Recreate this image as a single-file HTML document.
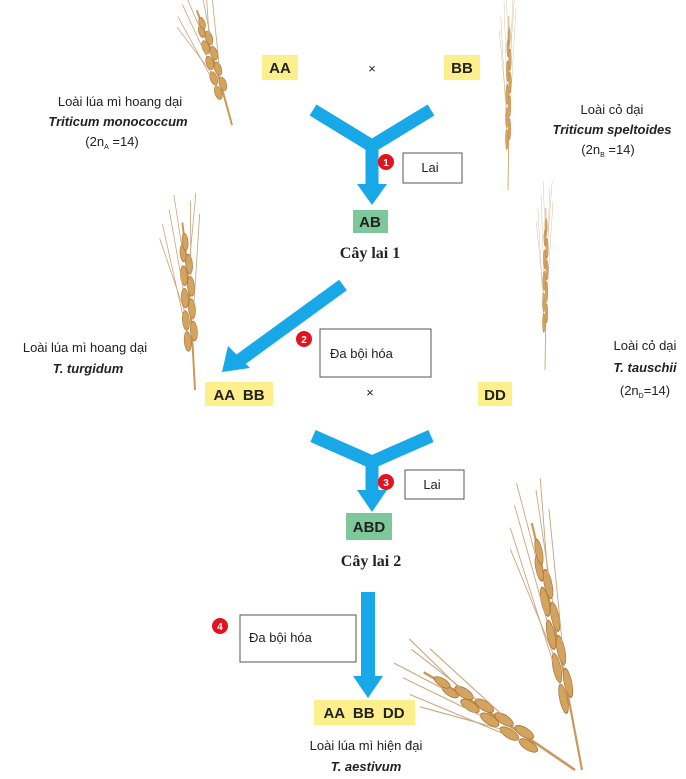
<!DOCTYPE html>
<html><head><meta charset="utf-8"><style>
body{margin:0;background:#fff}
svg{display:block}
text{font-family:"Liberation Sans",sans-serif;fill:#222;white-space:pre}
.g{font-size:15px;font-weight:bold}
.t{font-size:13px}
.i{font-size:13px;font-style:italic;font-weight:bold}
.s{font-family:"Liberation Serif",serif;font-size:16px;font-weight:bold}
</style></head><body>
<svg width="686" height="779" viewBox="0 0 686 779" xmlns="http://www.w3.org/2000/svg">
<defs>
<g id="ear"><path d="M0 0 C2 -40 4 -80 2 -120" stroke="#c89a5a" stroke-width="2" fill="none"/>
<g fill="#d4a35c" stroke="#a9743a" stroke-width="0.6">
<ellipse cx="-3" cy="-35" rx="3.5" ry="7"/><ellipse cx="4" cy="-42" rx="3.5" ry="7"/><ellipse cx="-3" cy="-50" rx="3.5" ry="7"/><ellipse cx="4" cy="-58" rx="3.5" ry="7"/><ellipse cx="-2" cy="-66" rx="3.5" ry="7"/><ellipse cx="5" cy="-74" rx="3.5" ry="7"/><ellipse cx="-1" cy="-82" rx="3.5" ry="7"/><ellipse cx="5" cy="-90" rx="3.5" ry="7"/><ellipse cx="0" cy="-98" rx="3" ry="6"/><ellipse cx="3" cy="-106" rx="3" ry="6"/></g>
<g stroke="#c9a47a" stroke-width="0.8" fill="none"><path d="M-3 -40 L-18 -120"/><path d="M4 -50 L20 -125"/><path d="M-2 -65 L-10 -130"/><path d="M5 -75 L12 -135"/><path d="M0 -95 L-4 -140"/><path d="M-3 -55 L-22 -110"/><path d="M4 -85 L18 -140"/></g></g>
</defs>
<use href="#ear" transform="translate(232,125) rotate(-18)"/>
<use href="#ear" transform="translate(508,190) scale(0.4,1.45)"/>
<use href="#ear" transform="translate(195,390) rotate(-5) scale(1,1.4)"/>
<use href="#ear" transform="translate(545,370) scale(0.4,1.35)"/>
<use href="#ear" transform="translate(575,770) rotate(-58) scale(1.3,1.5)"/>
<use href="#ear" transform="translate(582,770) rotate(-12) scale(1.1,2.1)"/>

<rect x="262" y="55" width="36" height="25" fill="#fdf08c"/><text class="g" x="280" y="73" text-anchor="middle">AA</text>
<text x="372" y="73" text-anchor="middle" class="t">×</text>
<rect x="444" y="55" width="36" height="25" fill="#fdf08c"/><text class="g" x="462" y="73" text-anchor="middle">BB</text>
<text class="t" x="120" y="106" text-anchor="middle">Loài lúa mì hoang dại</text>
<text class="i" x="118" y="126" text-anchor="middle">Triticum monococcum</text>
<text class="t" x="112" y="146" text-anchor="middle">(2n<tspan font-size="7" dy="3">A</tspan><tspan dy="-3"> =14)</tspan></text>
<text class="t" x="612" y="114" text-anchor="middle">Loài cỏ dại</text>
<text class="i" x="612" y="134" text-anchor="middle">Triticum speltoides</text>
<text class="t" x="608" y="154" text-anchor="middle">(2n<tspan font-size="7" dy="3">B</tspan><tspan dy="-3"> =14)</tspan></text>
<g stroke="#18a8e8" stroke-width="13" fill="none"><path d="M313 110 L372 146 L431 110"/><path d="M372 146 V186"/></g>
<polygon points="357,184 387,184 372,205" fill="#18a8e8"/>
<circle cx="386" cy="162" r="8" fill="#e0141f"/><text x="386" y="166" font-size="10" font-weight="bold" text-anchor="middle" style="fill:#fff">1</text>
<rect x="403" y="153" width="59" height="30" fill="#fff" stroke="#555"/><text class="t" x="430" y="172" text-anchor="middle">Lai</text>
<rect x="353" y="210" width="35" height="23" fill="#7dc79a"/><text class="g" x="370" y="227" text-anchor="middle">AB</text>
<text class="s" x="370" y="258" text-anchor="middle">Cây lai 1</text>

<g stroke="#18a8e8" stroke-width="13"><path d="M343 285 L240 360"/></g>
<polygon points="222,372 228,346 250,368" fill="#18a8e8"/>
<circle cx="304" cy="339" r="8" fill="#e0141f"/><text x="304" y="343" font-size="10" font-weight="bold" text-anchor="middle" style="fill:#fff">2</text>
<rect x="320" y="329" width="111" height="48" fill="#fff" stroke="#555"/><text class="t" x="330" y="358">Đa bội hóa</text>
<text class="t" x="85" y="352" text-anchor="middle">Loài lúa mì hoang dại</text>
<text class="i" x="88" y="373" text-anchor="middle">T. turgidum</text>
<rect x="205" y="382" width="68" height="24" fill="#fdf08c"/><text class="g" x="239" y="400" text-anchor="middle">AA  BB</text>
<text class="t" x="370" y="397" text-anchor="middle">×</text>
<rect x="478" y="382" width="34" height="24" fill="#fdf08c"/><text class="g" x="495" y="400" text-anchor="middle">DD</text>
<text class="t" x="645" y="350" text-anchor="middle">Loài cỏ dại</text>
<text class="i" x="645" y="372" text-anchor="middle">T. tauschii</text>
<text class="t" x="645" y="395" text-anchor="middle">(2n<tspan font-size="7" dy="3">D</tspan><tspan dy="-3">=14)</tspan></text>
<g stroke="#18a8e8" stroke-width="13" fill="none"><path d="M313 436 L372 462 L431 436"/><path d="M372 462 V492"/></g>
<polygon points="357,490 387,490 372,512" fill="#18a8e8"/>
<circle cx="386" cy="482" r="8" fill="#e0141f"/><text x="386" y="486" font-size="10" font-weight="bold" text-anchor="middle" style="fill:#fff">3</text>
<rect x="405" y="470" width="59" height="29" fill="#fff" stroke="#555"/><text class="t" x="432" y="489" text-anchor="middle">Lai</text>
<rect x="346" y="513" width="46" height="27" fill="#7dc79a"/><text class="g" x="369" y="532" text-anchor="middle">ABD</text>
<text class="s" x="371" y="566" text-anchor="middle">Cây lai 2</text>

<rect x="361" y="592" width="14" height="85" fill="#18a8e8"/>
<polygon points="353,676 383,676 368,698" fill="#18a8e8"/>
<circle cx="220" cy="626" r="8" fill="#e0141f"/><text x="220" y="630" font-size="10" font-weight="bold" text-anchor="middle" style="fill:#fff">4</text>
<rect x="240" y="615" width="116" height="47" fill="#fff" stroke="#555"/><text class="t" x="249" y="642">Đa bội hóa</text>
<rect x="314" y="700" width="101" height="25" fill="#fdf08c"/><text class="g" x="364" y="718" text-anchor="middle">AA  BB  DD</text>
<text class="t" x="366" y="750" text-anchor="middle">Loài lúa mì hiện đại</text>
<text class="i" x="366" y="771" text-anchor="middle">T. aestivum</text>
</svg>
</body></html>
